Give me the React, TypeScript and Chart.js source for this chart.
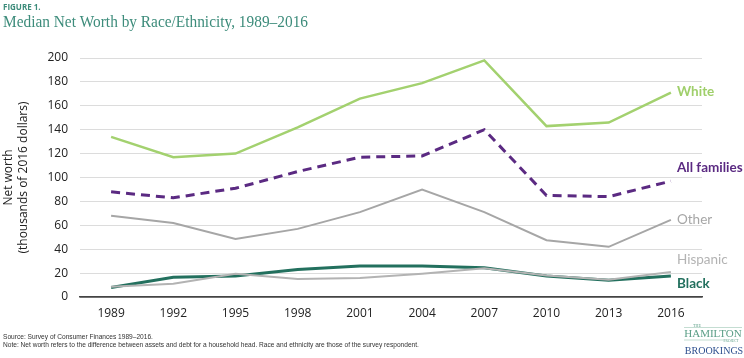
import React, { useEffect, useRef } from "react";
import { Chart, registerables } from "chart.js";

Chart.register(...registerables);

const years = ["1989", "1992", "1995", "1998", "2001", "2004", "2007", "2010", "2013", "2016"];
const white = [134, 117, 120, 142, 166, 179, 198, 143, 146, 171];
const allFamilies = [88, 83, 91, 105, 117, 118, 140, 85, 84, 97];
const other = [68, 62, 48.5, 57, 71, 90, 71, 47.5, 42, 64.5];
const hispanic = [8.5, 11, 19.5, 15, 16, 19.5, 24, 18, 14.5, 21];
const black = [8, 16.5, 17.5, 23, 26, 26, 24.5, 17.5, 14, 17.5];
const seriesNames = ["White", "All families", "Other", "Hispanic", "Black"];
const labelValues = [171.5, 108, 65, 31, 11];
const yTicks = [0, 20, 40, 60, 80, 100, 120, 140, 160, 180, 200];

const SANS = "'Open Sans', sans-serif";
const LABEL = "Lato, 'Open Sans', sans-serif";

const decorPlugin = {
  id: "decor",
  afterDatasetsDraw(chart: any) {
    const ctx = chart.ctx;
    const y = chart.scales.y;
    const area = chart.chartArea;
    ctx.save();
    const styles = [
      { color: "#9fcf6a", weight: "700" },
      { color: "#5b2a82", weight: "700" },
      { color: "#a6a6a6", weight: "400" },
      { color: "#b3b3b3", weight: "400" },
      { color: "#23705e", weight: "700" },
    ];
    ctx.textBaseline = "middle";
    ctx.textAlign = "left";
    seriesNames.forEach((n, i) => {
      ctx.font = `${styles[i].weight} 13.5px ${LABEL}`;
      ctx.fillStyle = styles[i].color;
      ctx.fillText(n, area.right - 25, y.getPixelForValue(labelValues[i]));
    });
    ctx.restore();
  },
  afterDraw(chart: any) {
    const ctx = chart.ctx;
    const area = chart.chartArea;
    ctx.save();
    ctx.textAlign = "left";
    ctx.textBaseline = "alphabetic";
    ctx.fillStyle = "#3d8c7b";
    ctx.font = `700 8px ${SANS}`;
    ctx.fillText("FIGURE 1.", 3, 10);
    ctx.font = `17.5px 'Liberation Serif', serif`;
    ctx.fillText("Median Net Worth by Race/Ethnicity, 1989\u20132016", 3, 27, 305);
    // y axis title
    ctx.save();
    ctx.translate(0, (area.top + area.bottom) / 2);
    ctx.rotate(-Math.PI / 2);
    ctx.textAlign = "center";
    ctx.textBaseline = "middle";
    ctx.fillStyle = "#222";
    ctx.font = `12px ${SANS}`;
    ctx.fillText("Net worth", 0, 9);
    ctx.fillText("(thousands of 2016 dollars)", 0, 24);
    ctx.restore();
    // footnotes
    ctx.fillStyle = "#333";
    ctx.font = `6.6px 'Liberation Sans', sans-serif`;
    ctx.textBaseline = "middle";
    ctx.fillText("Source: Survey of Consumer Finances 1989\u20132016.", 3, 337);
    ctx.fillText(
      "Note: Net worth refers to the difference between assets and debt for a household head. Race and ethnicity are those of the survey respondent.",
      3,
      345,
      425
    );
    // logo
    ctx.textAlign = "center";
    ctx.fillStyle = "#5a9e86";
    ctx.font = `4px 'Liberation Serif', serif`;
    ctx.fillText("THE", 697, 326);
    ctx.font = `11px 'Liberation Serif', serif`;
    ctx.fillText("HAMILTON", 713, 334);
    ctx.font = `3.5px 'Liberation Serif', serif`;
    ctx.fillText("PROJECT", 731, 341);
    ctx.strokeStyle = "#9cc6b4";
    ctx.lineWidth = 0.6;
    ctx.beginPath();
    ctx.moveTo(684, 327.5);
    ctx.lineTo(742, 327.5);
    ctx.moveTo(684, 340);
    ctx.lineTo(724, 340);
    ctx.stroke();
    ctx.fillStyle = "#2d4f8e";
    ctx.font = `10px 'Liberation Serif', serif`;
    ctx.fillText("BROOKINGS", 714, 351);
    ctx.restore();
  },
};

export default function App() {
  const ref = useRef<HTMLCanvasElement>(null);
  useEffect(() => {
    const chart = new Chart(ref.current!, {
      type: "line",
      data: {
        labels: years,
        datasets: [
          { label: "White", data: white, borderColor: "#a3d16f", borderWidth: 2.5 },
          { label: "All families", data: allFamilies, borderColor: "#5b2a82", borderWidth: 3, borderDash: [9, 6] },
          { label: "Other", data: other, borderColor: "#a6a6a6", borderWidth: 2 },
          { label: "Hispanic", data: hispanic, borderColor: "#b3b3b3", borderWidth: 2 },
          { label: "Black", data: black, borderColor: "#23705e", borderWidth: 3 },
        ].map((d) => ({ ...d, pointRadius: 0, tension: 0, fill: false })),
      },
      options: {
        animation: false,
        responsive: false,
        layout: { padding: { left: 0, right: 42, top: 58, bottom: 36 } },
        plugins: { legend: { display: false }, tooltip: { enabled: false }, title: { display: false } },
        scales: {
          x: {
            offset: true,
            grid: { display: false, drawTicks: false },
            border: { display: true, color: "#444", width: 1.5 },
            ticks: { color: "#222", font: { family: SANS, size: 12 }, padding: 9, maxRotation: 0 },
            afterFit: (s: any) => { s.height = 25; },
          },
          y: {
            min: 0,
            max: 200,
            afterBuildTicks: (s: any) => { s.ticks = yTicks.map((v) => ({ value: v })); },
            grid: {
              drawTicks: false,
              color: (c: any) => (c.tick && c.tick.value === 0 ? "#444" : "#dcdcdc"),
              lineWidth: (c: any) => (c.tick && c.tick.value === 0 ? 1.5 : 1),
            },
            border: { display: false },
            ticks: { color: "#222", font: { family: SANS, size: 12 }, padding: 12 },
            afterFit: (s: any) => { s.width = 80; },
          },
        },
      },
      plugins: [decorPlugin],
    });
    return () => chart.destroy();
  }, []);
  return (
    <div style={{ position: "absolute", left: 0, top: 0, width: 744, height: 358, background: "#fff" }}>
      <canvas ref={ref} width={744} height={358} style={{ display: "block" }} />
    </div>
  );
}
